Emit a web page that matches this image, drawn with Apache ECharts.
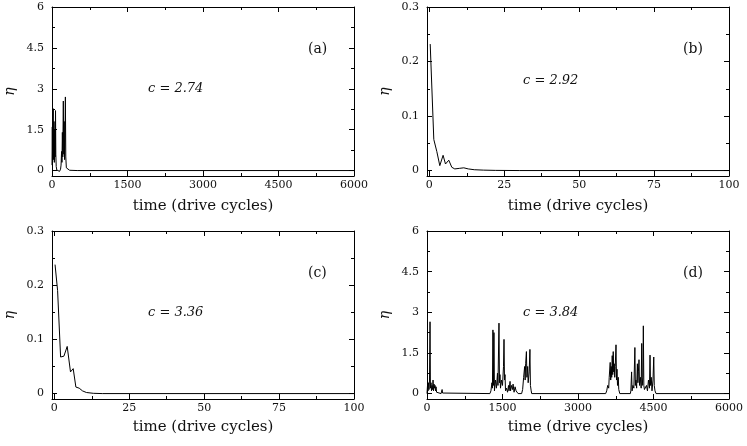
<!DOCTYPE html>
<html>
<head>
<meta charset="utf-8">
<script src="https://cdn.jsdelivr.net/npm/echarts@6/dist/echarts.min.js"></script>
<style>
html,body{margin:0;padding:0;background:#fff;}
#chart{width:747px;height:446px;}
</style>
</head>
<body>
<div id="chart"></div>
<script>
// ---- data ----
var xTitle = 'time (drive cycles)';
var yTitle = 'η';
var panelTags = ['(a)', '(b)', '(c)', '(d)'];
var panelC = ['c = 2.74', 'c = 2.92', 'c = 3.36', 'c = 3.84'];

var longTicks = [0, 1500, 3000, 4500, 6000];
var longMinor = [750, 2250, 3750, 5250];
var shortTicks = [0, 25, 50, 75, 100];
var shortMinor = [12.5, 37.5, 62.5, 87.5];
var bigEtaTicks = [0, 1.5, 3, 4.5, 6];
var bigEtaMinor = [0.75, 2.25, 3.75, 5.25];
var smallEtaTicks = [0, 0.1, 0.2, 0.3];
var smallEtaMinor = [0.05, 0.15, 0.25];

// panel (a) c = 2.74
var aTime = [0, 6, 12, 18, 25, 32, 40, 48, 56, 63, 70, 76, 84, 95, 110, 130, 150, 170, 180, 190, 198, 206, 214, 225, 234, 242, 250, 258, 266, 274, 285, 300, 350, 500, 6000];
var aEta  = [0.2, 1.6, 0.3, 1.9, 2.27, 0.4, 1.8, 0.3, 1.5, 0.5, 2.2, 0.6, 0.15, 0.02, -0.04, -0.05, -0.03, 0.05, 0.2, 0.7, 0.3, 1.4, 0.5, 2.55, 0.6, 1.8, 0.4, 1.2, 2.7, 0.5, 0.1, 0.03, 0.01, 0, 0];

// panel (b) c = 2.92
var bTime = [0.3, 1.5, 2.5, 3.5, 4.6, 5.4, 6.5, 7.5, 8.5, 10, 11.5, 13, 15, 18, 22, 30, 100];
var bEta  = [0.232, 0.057, 0.035, 0.009, 0.028, 0.012, 0.019, 0.006, 0.003, 0.004, 0.005, 0.003, 0.0015, 0.0008, 0.0003, 0, 0];

// panel (c) c = 3.36
var cTime = [0.25, 1.1, 2.1, 3.2, 4.3, 5.4, 6.3, 7.2, 8.3, 9.4, 10.7, 13, 16, 100];
var cEta  = [0.238, 0.19, 0.0675, 0.069, 0.087, 0.04, 0.046, 0.012, 0.01, 0.005, 0.002, 0.0005, 0, 0];

// panel (d) c = 3.84
var dTime = [0, 10, 20, 30, 40, 50, 60, 68, 80, 90, 100, 110, 120, 130, 140, 150, 160, 170, 180, 190, 200, 280, 300, 310, 320,
  1250, 1270, 1290, 1300, 1310, 1320, 1330, 1340, 1360, 1380, 1400, 1410, 1430, 1440, 1450, 1460, 1480, 1500, 1520, 1530, 1540, 1550, 1560, 1580,
  1600, 1620, 1630, 1650, 1660, 1680, 1700, 1710, 1730, 1750, 1770, 1790, 1810, 1880, 1900, 1920, 1940, 1950, 1960, 1975, 1985, 2000, 2010, 2030, 2045, 2055, 2070, 2080,
  3550, 3570, 3590, 3610, 3620, 3640, 3650, 3660, 3670, 3680, 3690, 3700, 3710, 3720, 3730, 3740, 3755, 3765, 3775, 3785, 3800, 3810, 3830,
  4040, 4050, 4065, 4075, 4090, 4110, 4130, 4140, 4150, 4165, 4180, 4190, 4200, 4212, 4222, 4240, 4255, 4266, 4276, 4290, 4298, 4308, 4320, 4340, 4360, 4380,
  4400, 4420, 4431, 4441, 4455, 4470, 4490, 4505, 4515, 4530, 4550, 6000];
var dEta = [0, 0.3, 0.1, 0.4, 0.15, 0.5, 2.65, 0.2, 0.4, 0.1, 0.3, 0.15, 0.5, 0.1, 0.35, 0.2, 0.3, 0.1, 0.25, 0.05, 0.02, 0, 0.15, 0.02, 0,
  0, 0.1, 0.4, 0.2, 2.35, 0.3, 2.25, 0.1, 0.5, 0.2, 0.75, 0.3, 2.6, 0.4, 0.7, 0.2, 0.5, 0.3, 1.0, 2.0, 0.5, 0.7, 0.1, 0.2,
  0.05, 0.3, 0.1, 0.45, 0.1, 0.3, 0.15, 0.35, 0.05, 0.25, 0.1, 0.15, 0, 0, 0.15, 0.6, 1.0, 0.5, 1.1, 1.55, 0.6, 1.0, 0.4, 0.8, 1.63, 0.3, 0.1, 0,
  0, 0.1, 0.3, 0.2, 0.6, 1.15, 0.5, 1.0, 0.6, 1.4, 0.7, 1.55, 0.8, 1.1, 0.6, 1.0, 1.8, 0.5, 0.9, 0.3, 0.6, 0.15, 0,
  0, 0.1, 0.8, 0.1, 0.3, 0.2, 1.7, 0.3, 0.5, 0.2, 1.1, 0.4, 0.8, 1.25, 0.3, 0.6, 0.2, 1.85, 0.3, 0.6, 2.5, 0.3, 0.15, 0.1, 0.3, 0.1,
  0.5, 0.2, 1.42, 0.3, 0.6, 0.1, 0.5, 1.35, 0.3, 0.1, 0, 0];

// ---- chart ----
function zip(t, v) { return t.map(function (x, i) { return [x, v[i]]; }); }
function plain(v) { return String(v); }

var FONT = 'DejaVu Serif';
var panels = [
  { grid: { left: 52, top: 7, width: 302, height: 169 }, x: [0, 6000, longTicks, longMinor], y: [-0.2, 6, bigEtaTicks, bigEtaMinor], data: zip(aTime, aEta), nameGap: 23 },
  { grid: { left: 427, top: 7, width: 302, height: 169 }, x: [-0.77, 100, shortTicks, shortMinor], y: [-0.01, 0.3, smallEtaTicks, smallEtaMinor], data: zip(bTime, bEta), nameGap: 23 },
  { grid: { left: 52, top: 231, width: 302, height: 168 }, x: [-0.77, 100, shortTicks, shortMinor], y: [-0.01, 0.3, smallEtaTicks, smallEtaMinor], data: zip(cTime, cEta), nameGap: 21 },
  { grid: { left: 427, top: 231, width: 302, height: 168 }, x: [0, 6000, longTicks, longMinor], y: [-0.2, 6, bigEtaTicks, bigEtaMinor], data: zip(dTime, dEta), nameGap: 21 }
];

var grids = [], xAxes = [], yAxes = [], series = [], graphics = [];
var lineStyle = { color: '#000', width: 1 };

panels.forEach(function (p, gi) {
  grids.push(p.grid);
  var xr = p.x, yr = p.y;
  // bottom main
  xAxes.push({
    type: 'value', gridIndex: gi, position: 'bottom', min: xr[0], max: xr[1],
    axisLine: { show: true, onZero: false, lineStyle: lineStyle },
    axisTick: { show: true, inside: true, length: 5, customValues: xr[2], lineStyle: lineStyle },
    axisLabel: { show: true, customValues: xr[2], formatter: plain, margin: 4, fontFamily: FONT, fontSize: 11, color: '#111' },
    splitLine: { show: false },
    name: xTitle, nameLocation: 'middle', nameGap: p.nameGap,
    nameTextStyle: { fontFamily: FONT, fontSize: 15, color: '#111' }
  });
  xAxes.push({
    type: 'value', gridIndex: gi, position: 'bottom', min: xr[0], max: xr[1],
    axisLine: { show: false, onZero: false },
    axisTick: { show: true, inside: true, length: 3, customValues: xr[3], lineStyle: lineStyle },
    axisLabel: { show: false }, splitLine: { show: false }
  });
  xAxes.push({
    type: 'value', gridIndex: gi, position: 'top', min: xr[0], max: xr[1],
    axisLine: { show: true, onZero: false, lineStyle: lineStyle },
    axisTick: { show: true, inside: true, length: 5, customValues: xr[2], lineStyle: lineStyle },
    axisLabel: { show: false }, splitLine: { show: false }
  });
  xAxes.push({
    type: 'value', gridIndex: gi, position: 'top', min: xr[0], max: xr[1],
    axisLine: { show: false, onZero: false },
    axisTick: { show: true, inside: true, length: 3, customValues: xr[3], lineStyle: lineStyle },
    axisLabel: { show: false }, splitLine: { show: false }
  });
  // y axes
  yAxes.push({
    type: 'value', gridIndex: gi, position: 'left', min: yr[0], max: yr[1],
    axisLine: { show: true, onZero: false, lineStyle: lineStyle },
    axisTick: { show: true, inside: true, length: 5, customValues: yr[2], lineStyle: lineStyle },
    axisLabel: { show: true, customValues: yr[2], formatter: plain, margin: 8, fontFamily: FONT, fontSize: 11, color: '#111' },
    splitLine: { show: false },
    name: yTitle, nameLocation: 'middle', nameGap: 35, nameRotate: 90,
    nameTextStyle: { fontFamily: FONT, fontSize: 14, fontStyle: 'italic', color: '#111' }
  });
  yAxes.push({
    type: 'value', gridIndex: gi, position: 'left', min: yr[0], max: yr[1],
    axisLine: { show: false, onZero: false },
    axisTick: { show: true, inside: true, length: 3, customValues: yr[3], lineStyle: lineStyle },
    axisLabel: { show: false }, splitLine: { show: false }
  });
  yAxes.push({
    type: 'value', gridIndex: gi, position: 'right', min: yr[0], max: yr[1],
    axisLine: { show: true, onZero: false, lineStyle: lineStyle },
    axisTick: { show: true, inside: true, length: 5, customValues: yr[2], lineStyle: lineStyle },
    axisLabel: { show: false }, splitLine: { show: false }
  });
  yAxes.push({
    type: 'value', gridIndex: gi, position: 'right', min: yr[0], max: yr[1],
    axisLine: { show: false, onZero: false },
    axisTick: { show: true, inside: true, length: 3, customValues: yr[3], lineStyle: lineStyle },
    axisLabel: { show: false }, splitLine: { show: false }
  });
  series.push({
    type: 'line', xAxisIndex: gi * 4, yAxisIndex: gi * 4, data: p.data,
    showSymbol: false, symbol: 'none', clip: true,
    lineStyle: { color: '#000', width: 1 }
  });
  var g = p.grid;
  graphics.push({
    type: 'text', left: g.left + 256, top: g.top + 35,
    style: { text: panelTags[gi], font: '14px "DejaVu Serif"', fill: '#111' }
  });
  graphics.push({
    type: 'text', left: g.left + 96, top: g.top + (gi === 1 ? 67 : 75),
    style: { text: panelC[gi], font: 'italic 13px "DejaVu Serif"', fill: '#111' }
  });
});

var chart = echarts.init(document.getElementById('chart'), null, { renderer: 'canvas' });
chart.setOption({
  animation: false,
  backgroundColor: '#fff',
  grid: grids,
  xAxis: xAxes,
  yAxis: yAxes,
  series: series,
  graphic: graphics
});
</script>
</body>
</html>
